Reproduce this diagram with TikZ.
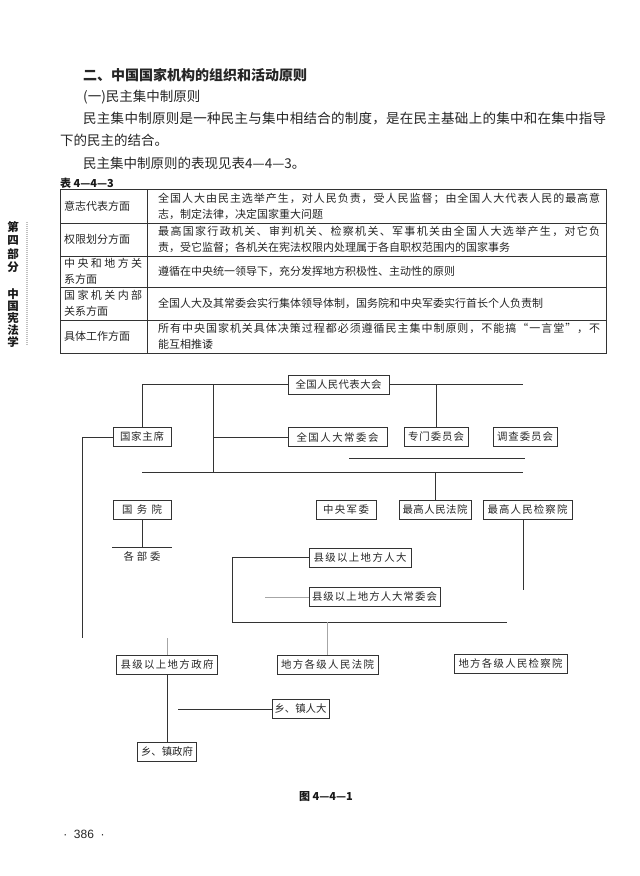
\documentclass[tikz,border=0pt]{standalone}
\usepackage{fontspec}
\newfontfamily\cjk{Noto Sans CJK SC}
\newfontfamily\lat{Liberation Sans}
\newcommand\jl[2]{\makebox[#1][s]{\jlx#2\relax}}
\def\jlx#1{#1\futurelet\jlnext\jly}
\def\jly{\ifx\jlnext\relax\expandafter\jlend\else\hfill\expandafter\jlx\fi}
\def\jlend\relax{}
\tikzset{
  ln/.style={draw=black!80, line width=0.7pt},
  faint/.style={draw=black!35, line width=0.6pt},
  dbox/.style={draw=black!80, line width=0.7pt, inner sep=0pt, minimum height=19pt, text=black!85, font=\cjk\fontsize{10.4}{12}\selectfont},
  txt/.style={inner sep=0pt, anchor=west, text=black!85, font=\cjk\fontsize{13.5}{16}\selectfont},
  cell/.style={inner sep=0pt, anchor=west, align=left, text=black!85, font=\cjk\fontsize{11}{16}\selectfont},
  capt/.style={inner sep=0pt, text=black!90, font=\cjk\bfseries\fontsize{11}{13}\selectfont},
}
\begin{document}
\begin{tikzpicture}[x=1pt,y=-1pt]
\useasboundingbox[fill=white] (0,0) rectangle (640,876);

% ---- heading text ----
\node[txt, font=\cjk\bfseries\fontsize{14}{16}\selectfont] (t1) at (83,75) {二、中国国家机构的组织和活动原则};
\node[txt] (t2) at (83,97) {(一)民主集中制原则};
\node[txt] (t3) at (83,119) {\jl{523pt}{民主集中制原则是一种民主与集中相结合的制度，是在民主基础上的集中和在集中指导}};
\node[txt] (t4) at (60,140) {下的民主的结合。};
\node[txt] (t5) at (83,163) {民主集中制原则的表现见表4—4—3。};
\node[capt, anchor=west] (cap1) at (60,183) {表 4—4—3};

% ---- side text ----
\draw[black!25, line width=1.5pt, dash pattern=on 1pt off 1pt] (27,222) -- (27,345);
\node[capt, align=center, font=\cjk\bfseries\fontsize{11.5}{13.5}\selectfont] (side1) at (13,247) {第\\四\\部\\分};
\node[capt, align=center, font=\cjk\bfseries\fontsize{11.5}{12.2}\selectfont] (side2) at (13,318) {中\\国\\宪\\法\\学};

% ---- table ----
\draw[ln, line width=0.8pt] (60,189) rectangle (606,353);
\draw[ln] (147,189) -- (147,353);
\draw[ln] (60,223) -- (606,223);
\draw[ln] (60,256) -- (606,256);
\draw[ln] (60,287) -- (606,287);
\draw[ln] (60,320) -- (606,320);

\node[cell] (l1) at (64,206) {意志代表方面};
\node[cell] (c1) at (158,206) {\jl{442pt}{全国人大由民主选举产生，对人民负责，受人民监督；由全国人大代表人民的最高意}\\志，制定法律，决定国家重大问题};
\node[cell] (l2) at (64,239.5) {权限划分方面};
\node[cell] (c2) at (158,239.5) {\jl{442pt}{最高国家行政机关、审判机关、检察机关、军事机关由全国人大选举产生，对它负}\\责，受它监督；各机关在宪法权限内处理属于各自职权范围内的国家事务};
\node[cell] (l3) at (64,271.5) {\jl{78pt}{中央和地方关}\\系方面};
\node[cell] (c3) at (158,271.5) {遵循在中央统一领导下，充分发挥地方积极性、主动性的原则};
\node[cell] (l4) at (64,303.5) {\jl{78pt}{国家机关内部}\\关系方面};
\node[cell] (c4) at (158,303.5) {全国人大及其常委会实行集体领导体制，国务院和中央军委实行首长个人负责制};
\node[cell] (l5) at (64,336.5) {具体工作方面};
\node[cell] (c5) at (158,336.5) {\jl{442pt}{所有中央国家机关具体决策过程都必须遵循民主集中制原则，不能搞“一言堂”，不}\\能互相推诿};

% ---- diagram boxes ----
\node[dbox, minimum width=101pt] (npc) at (338.5,384.5) {\jl{86pt}{全国人民代表大会}};
\node[dbox, minimum width=58pt] (pres) at (142,437) {\jl{44pt}{国家主席}};
\node[dbox, minimum width=99pt] (npcsc) at (337.5,437) {\jl{82pt}{全国人大常委会}};
\node[dbox, minimum width=64pt] (spec) at (436,437) {\jl{56pt}{专门委员会}};
\node[dbox, minimum width=64pt] (inv) at (525,437) {\jl{56pt}{调查委员会}};
\node[dbox, minimum width=58pt] (state) at (142,509.5) {\jl{40pt}{国务院}};
\node[dbox, minimum width=60pt] (cmc) at (346,509.5) {\jl{46pt}{中央军委}};
\node[dbox, minimum width=72pt] (court) at (435,510) {\jl{65pt}{最高人民法院}};
\node[dbox, minimum width=89pt] (proc) at (527.5,509.5) {\jl{80pt}{最高人民检察院}};
\node[dbox, draw=none, minimum width=59pt, minimum height=18pt] (dept) at (142,557) {\jl{37pt}{各部委}};
\node[dbox, minimum width=102pt] (lpc) at (360,557.5) {\jl{93pt}{县级以上地方人大}};
\node[dbox, minimum width=131pt] (lpcsc) at (374.5,597) {\jl{125pt}{县级以上地方人大常委会}};
\node[dbox, minimum width=101pt] (lgov) at (167,664.5) {\jl{93pt}{县级以上地方政府}};
\node[dbox, minimum width=101pt] (lcourt) at (327.5,664.5) {\jl{93pt}{地方各级人民法院}};
\node[dbox, minimum width=113pt] (lproc) at (510.5,664) {\jl{104pt}{地方各级人民检察院}};
\node[dbox, minimum width=57pt] (tpc) at (300.5,709) {\jl{52pt}{乡、镇人大}};
\node[dbox, minimum width=59pt] (tgov) at (167,752) {\jl{52pt}{乡、镇政府}};

% ---- junction coordinates ----
\coordinate (jA) at (213,384.5);
\coordinate (jB) at (213,472);
\coordinate (r1) at (523,384.5);
\coordinate (m1) at (349,458);
\coordinate (m2) at (525,458);
\coordinate (b1) at (142,472);
\coordinate (b2) at (523,472);
\coordinate (lb) at (82,638);
\coordinate (h1) at (232,622);
\coordinate (h2) at (507,622);
\coordinate (sc) at (265,597);
\coordinate (pv) at (523,590);
\coordinate (gv) at (167,638);
\coordinate (tv) at (178,709);

% ---- connectors ----
\draw[ln] (npc.west) -| (pres.north);
\draw[ln] (jA) -- (jB);
\draw[ln] (jA |- npcsc.west) -- (npcsc.west);
\draw[ln] (npc.east) -- (r1);
\draw[ln] (spec.north) -- (spec.north |- npc.east);
\draw[ln] (pres.west) -| (lb);
\draw[ln] (m1) -- (m2);
\draw[ln] (b1) -- (b2);
\draw[ln] (court.north) -- (court.north |- b1);
\draw[ln] (state.south) -- (dept.north);
\draw[ln] (dept.north west) -- (dept.north east);
\draw[ln] (lpc.west) -| (h1);
\draw[faint] (sc) -- (lpcsc.west);
\draw[ln] (h1) -- (h2);
\draw[faint] (lcourt.north) -- (lcourt.north |- h1);
\draw[ln] (proc.south -| pv) -- (pv);
\draw[faint] (gv) -- (lgov.north);
\draw[ln] (lgov.south) -- (tgov.north);
\draw[ln] (tv) -- (tpc.west);

% ---- captions ----
\node[capt] (cap2) at (326,797) {图 4—4—1};
\node[inner sep=0pt, text=black!85, font=\lat\fontsize{12}{14}\selectfont] (pg) at (84,834) {·\ \ 386\ \ ·};
\end{tikzpicture}
\end{document}
